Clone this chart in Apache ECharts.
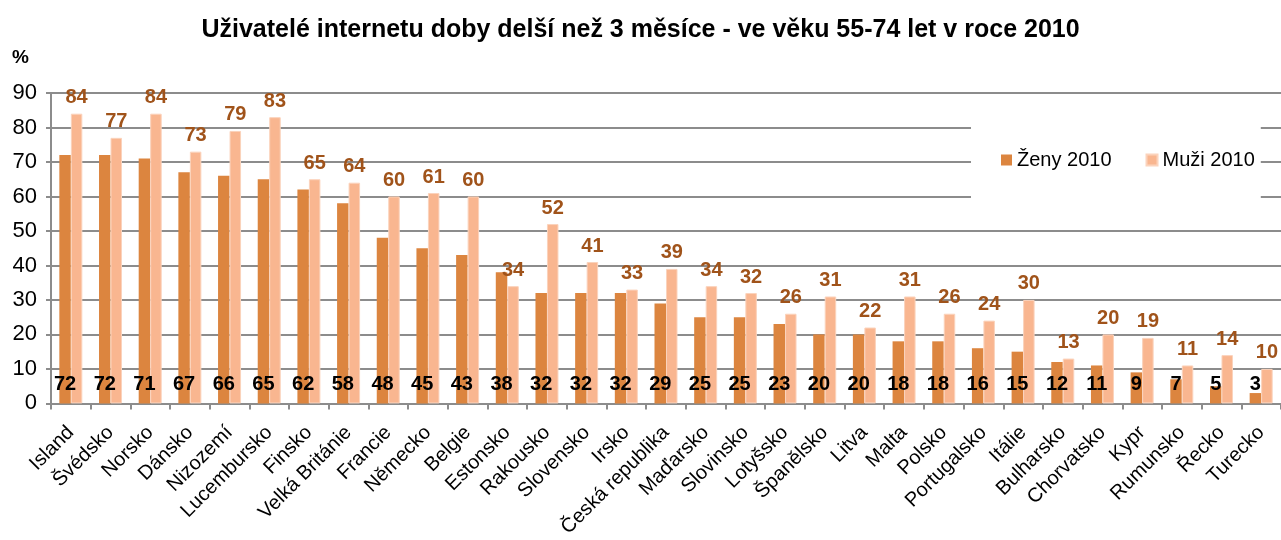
<!DOCTYPE html>
<html lang="cs">
<head>
    <meta charset="UTF-8">
    <title>Uživatelé internetu</title>
    <script src="https://cdn.jsdelivr.net/npm/echarts@6/dist/echarts.min.js"></script>
    <style>
        html, body { margin: 0; padding: 0; background: #fff; }
        #chart { width: 1281px; height: 540px; }
    </style>
</head>
<body>
<div id="chart"></div>
<script>
    // zeme serazene podle zen
    var countries = ['Island', 'Švédsko', 'Norsko', 'Dánsko', 'Nizozemí', 'Lucembursko', 'Finsko',
        'Velká Británie', 'Francie', 'Německo', 'Belgie', 'Estonsko', 'Rakousko', 'Slovensko', 'Irsko',
        'Česká republika', 'Maďarsko', 'Slovinsko', 'Lotyšsko', 'Španělsko', 'Litva', 'Malta', 'Polsko',
        'Portugalsko', 'Itálie', 'Bulharsko', 'Chorvatsko', 'Kypr', 'Rumunsko', 'Řecko', 'Turecko'];
    var zeny2010 = [72, 72, 71, 67, 66, 65, 62, 58, 48, 45, 43, 38, 32, 32, 32, 29, 25, 25, 23, 20, 20, 18, 18, 16, 15, 12, 11, 9, 7, 5, 3];
    var muzi2010 = [84, 77, 84, 73, 79, 83, 65, 64, 60, 61, 60, 34, 52, 41, 33, 39, 34, 32, 26, 31, 22, 31, 26, 24, 30, 13, 20, 19, 11, 14, 10];
    var seriesNames = ['Ženy 2010', 'Muži 2010'];

    var font = '"Liberation Sans", Arial, sans-serif';
    var myChart = echarts.init(document.getElementById('chart'));
    var option = {
        animation: false,
        textStyle: { fontFamily: font },
        title: {
            text: 'Uživatelé internetu doby delší než 3 měsíce - ve věku 55-74 let v roce 2010',
            left: 'center',
            top: 13,
            textStyle: { fontSize: 25, fontWeight: 'bold', color: '#000', fontFamily: font }
        },
        graphic: [{
            type: 'text',
            left: 12,
            top: 48,
            style: { text: '%', font: 'bold 19px "Liberation Sans", Arial, sans-serif', fill: '#000' }
        }],
        legend: {
            data: seriesNames,
            orient: 'horizontal',
            left: 971,
            top: 112,
            padding: [38, 6, 38, 30],
            backgroundColor: '#fff',
            itemWidth: 11,
            itemHeight: 11,
            itemGap: 34,
            icon: 'rect',
            textStyle: { fontSize: 20, color: '#000', fontFamily: font }
        },
        grid: {
            left: 51,
            top: 93,
            width: 1234,
            height: 312
        },
        xAxis: {
            type: 'category',
            data: countries,
            axisLine: { lineStyle: { color: '#8c8c8c', width: 2 } },
            axisTick: { show: true, length: 6, lineStyle: { color: '#8c8c8c', width: 2 } },
            axisLabel: {
                rotate: 45,
                interval: 0,
                margin: 26,
                fontSize: 20,
                color: '#000',
                fontFamily: font
            }
        },
        yAxis: {
            type: 'value',
            min: 0,
            max: 90,
            interval: 10,
            axisLine: { show: true, lineStyle: { color: '#8c8c8c', width: 2 } },
            axisTick: { show: true, length: 5, lineStyle: { color: '#8c8c8c', width: 2 } },
            axisLabel: { fontSize: 22, color: '#000', margin: 14, fontFamily: font },
            splitLine: { lineStyle: { color: '#8c8c8c', width: 2 } }
        },
        series: [
            {
                name: seriesNames[0],
                type: 'bar',
                data: zeny2010,
                barWidth: 11.5,
                barGap: '0%',
                itemStyle: { color: '#DC853F' },
                label: {
                    show: true,
                    position: 'insideBottom',
                    distance: 9,
                    fontSize: 20,
                    fontWeight: 'bold',
                    color: '#000',
                    fontFamily: font
                }
            },
            {
                name: seriesNames[1],
                type: 'bar',
                data: muzi2010,
                barWidth: 11.5,
                itemStyle: { color: '#F9B690', borderColor: '#FBD3BC', borderWidth: 1 },
                label: {
                    show: true,
                    position: 'top',
                    distance: 6,
                    fontSize: 20,
                    fontWeight: 'bold',
                    color: '#A0531A',
                    fontFamily: font
                }
            }
        ]
    };
    myChart.setOption(option);
</script>
</body>
</html>
